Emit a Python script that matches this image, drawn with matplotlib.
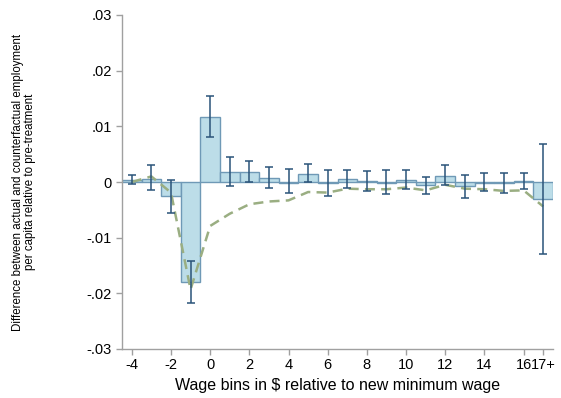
import matplotlib
matplotlib.use('Agg')
import matplotlib.pyplot as plt
import numpy as np

plt.rcParams['font.family'] = ['Liberation Sans', 'DejaVu Sans']

# wage bins relative to the new minimum wage (17 = 17+)
bins = [-4, -3, -2, -1, 0, 1, 2, 3, 4, 5, 6, 7, 8, 9, 10, 11, 12, 13, 14, 15, 16, 17]
# estimated difference (bars)
est = [0.0003, 0.0006, -0.0025, -0.0179, 0.0117, 0.0018, 0.0018, 0.0007, -0.0001, 0.0015, -0.0001,
       0.0006, 0.0001, -0.0001, 0.0004, -0.0005, 0.0011, -0.0007, -0.0001, -0.0002, 0.0001, -0.0030]
# confidence interval bounds
ci_hi = [0.0012, 0.0030, 0.0004, -0.0142, 0.0155, 0.0045, 0.0038, 0.0027, 0.0024, 0.0033, 0.0022,
         0.0022, 0.0020, 0.0021, 0.0022, 0.0009, 0.0031, 0.0012, 0.0016, 0.0016, 0.0016, 0.0068]
ci_lo = [-0.0003, -0.0015, -0.0055, -0.0217, 0.0080, -0.0008, 0.0000, -0.0010, -0.0020, 0.0000, -0.0025,
         -0.0010, -0.0017, -0.0021, -0.0013, -0.0022, -0.0006, -0.0028, -0.0016, -0.0019, -0.0013, -0.0129]
# dashed comparison series
dashed = [0.0000, 0.0010, -0.0019, -0.0193, -0.0079, -0.0057, -0.0040, -0.0035, -0.0033, -0.0018, -0.0019,
          -0.0012, -0.0013, -0.0013, -0.0010, -0.0015, -0.0005, -0.0012, -0.0013, -0.0016, -0.0015, -0.0044]

xticks = [-4, -2, 0, 2, 4, 6, 8, 10, 12, 14, 16, 17]
xticklabels = ['-4', '-2', '0', '2', '4', '6', '8', '10', '12', '14', '16', '17+']
yticks = [-0.03, -0.02, -0.01, 0, 0.01, 0.02, 0.03]
yticklabels = ['-.03', '-.02', '-.01', '0', '.01', '.02', '.03']

fig = plt.figure(figsize=(5.61, 3.98), dpi=100)
ax = fig.add_axes([122 / 561, 1 - 349 / 398, 431 / 561, 334 / 398])

ax.bar(bins, est, width=1.0, color='#bcdde8', edgecolor='#6f99b6', linewidth=1.0, zorder=2)

x = np.array(bins)
lo = np.array(est) - np.array(ci_lo)
hi = np.array(ci_hi) - np.array(est)
ax.errorbar(x, est, yerr=[lo, hi], fmt='none', ecolor='#2a5379', elinewidth=1.1,
            capsize=3.2, capthick=1.1, zorder=4)

ax.plot(bins, dashed, linestyle=(0, (4, 2.5)), color='#9aae82', linewidth=1.8, zorder=3)

ax.set_xlim(-4.5, 17.5)
ax.set_ylim(-0.03, 0.03)
ax.set_xticks(xticks)
ax.set_xticklabels(xticklabels)
ax.set_yticks(yticks)
ax.set_yticklabels(yticklabels)

for s in ['top', 'right']:
    ax.spines[s].set_visible(False)
for s in ['left', 'bottom']:
    ax.spines[s].set_color('#a0a0a0')
    ax.spines[s].set_linewidth(1.0)
ax.tick_params(axis='both', colors='#a0a0a0', labelcolor='black', labelsize=10.5, length=4, width=1.0)
ax.tick_params(axis='x', pad=2.5)

ax.set_xlabel('Wage bins in $ relative to new minimum wage', fontsize=11.5, labelpad=4)
ax.set_ylabel('Difference between actual and counterfactual employment\nper capita relative to pre-treatment',
              fontsize=8.3, linespacing=1.0)
ax.yaxis.set_label_coords(-0.199, 0.5)

fig.savefig('out.png', dpi=100)
